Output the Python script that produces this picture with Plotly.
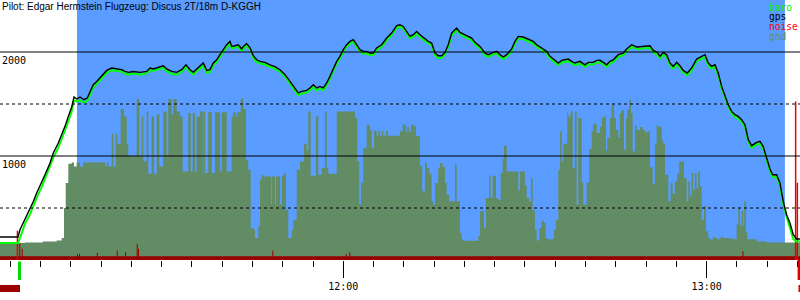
import pandas as pd
import plotly.graph_objects as go

# ---------------- data (time = minutes after 11:00, altitude in m) ----------------
flight_t = [3.32, 6.29, 6.62, 7.45, 8.27, 8.82, 9.38, 10.2, 10.75, 11.58,
            12.12, 12.95, 13.51, 14.05, 14.6, 15.16, 15.54, 15.98, 16.53, 17.19,
            17.73, 18.18, 18.72, 19.29, 19.83, 20.37, 20.94, 21.76, 22.59, 23.41,
            23.96, 24.5, 25.33, 26.43, 27.54, 28.09, 28.63, 29.46, 30.28, 30.84,
            31.67, 32.49, 33.32, 34.03, 34.69, 35.23, 35.79, 36.34, 36.88, 37.45,
            37.99, 38.54, 39.1, 39.64, 40.19, 40.75, 41.29, 41.57, 42.12, 42.66,
            43.22, 43.49, 44.05, 44.6, 45.14, 45.7, 46.25, 47.07, 47.9, 48.72,
            49.55, 50.37, 51.2, 52.02, 52.57, 53.13, 53.96, 54.5, 55.05, 55.61,
            56.15, 56.7, 57.26, 57.8, 58.35, 58.91, 59.45, 60.0, 60.56, 61.11,
            61.65, 62.21, 62.76, 63.3, 63.86, 64.41, 64.95, 65.51, 66.34, 67.16,
            67.99, 68.81, 69.36, 69.9, 70.47, 71.01, 71.56, 72.12, 72.66, 73.49,
            74.03, 74.59, 75.14, 75.68, 76.24, 76.79, 77.33, 77.9, 78.72, 79.27,
            80.09, 80.64, 81.2, 81.74, 82.57, 83.39, 83.94, 84.5, 85.33, 85.87,
            86.42, 86.98, 87.8, 88.35, 88.89, 89.72, 90.54, 91.37, 91.93, 92.75,
            93.58, 94.13, 94.95, 95.5, 96.06, 96.6, 97.15, 97.71, 98.25, 99.08,
            99.9, 100.45, 101.27, 101.84, 102.38, 102.93, 103.49, 104.03, 104.58, 105.41,
            106.23, 106.79, 107.62, 108.44, 109.27, 110.09, 110.64, 111.18, 111.84, 112.29,
            112.83, 113.39, 113.94, 114.48, 115.04, 115.59, 116.13, 116.79, 117.52, 118.34,
            119.17, 119.72, 120.26, 120.82, 121.37, 121.91, 122.47, 123.02, 123.56, 124.12,
            124.67, 125.21, 125.77, 126.32, 126.87, 127.43, 128.25, 128.8, 129.34, 129.9,
            130.45, 130.89, 131.55, 132.1, 132.64, 133.2, 133.75, 134.3, 134.85, 135.41]

gps_alt = [221, 221, 291, 394, 484, 563, 644, 740, 820, 933,
           1029, 1125, 1205, 1285, 1381, 1471, 1567, 1548, 1567, 1541,
           1558, 1621, 1685, 1717, 1750, 1791, 1823, 1846, 1837, 1830,
           1813, 1804, 1813, 1804, 1813, 1846, 1837, 1856, 1868, 1837,
           1813, 1804, 1830, 1877, 1830, 1804, 1837, 1860, 1894, 1823,
           1830, 1894, 1925, 1974, 2022, 2070, 2102, 2054, 2060, 2070,
           2029, 2054, 2080, 2039, 1964, 1925, 1910, 1900, 1877, 1860,
           1830, 1782, 1717, 1654, 1606, 1621, 1631, 1654, 1685, 1654,
           1669, 1654, 1702, 1766, 1846, 1910, 1958, 2022, 2070, 2102,
           2118, 2070, 2022, 2006, 2006, 1990, 1990, 2039, 2070, 2134,
           2182, 2253, 2262, 2246, 2198, 2150, 2166, 2198, 2166, 2125,
           2102, 2086, 1990, 1964, 1964, 1996, 2070, 2182, 2230, 2189,
           2166, 2157, 2134, 2093, 2054, 1990, 1974, 1990, 2006, 1974,
           1952, 1974, 2029, 2102, 2150, 2144, 2125, 2102, 2070, 2039,
           2006, 1958, 1919, 1894, 1919, 1925, 1932, 1910, 1894, 1910,
           1877, 1900, 1900, 1919, 1920, 1900, 1877, 1910, 1925, 1974,
           1990, 2029, 2070, 2048, 2054, 2054, 2060, 2015, 1996, 1958,
           1996, 1974, 1894, 1862, 1900, 1868, 1823, 1798, 1846, 1932,
           1958, 1974, 1894, 1862, 1877, 1798, 1669, 1573, 1493, 1429,
           1397, 1381, 1349, 1301, 1157, 1099, 1131, 1141, 1092, 981,
           875, 820, 820, 740, 563, 436, 356, 243, 202, 202]

baro_alt = [163, 163, 211, 350, 440, 520, 600, 700, 780, 890,
            985, 1080, 1160, 1245, 1335, 1430, 1535, 1525, 1535, 1515,
            1530, 1590, 1660, 1695, 1730, 1770, 1800, 1825, 1818, 1812,
            1790, 1785, 1795, 1782, 1795, 1826, 1818, 1835, 1850, 1815,
            1790, 1782, 1810, 1858, 1810, 1785, 1818, 1840, 1875, 1800,
            1808, 1875, 1905, 1955, 2002, 2050, 2085, 2035, 2040, 2050,
            2010, 2035, 2062, 2020, 1945, 1905, 1890, 1880, 1858, 1840,
            1810, 1762, 1697, 1632, 1585, 1600, 1610, 1635, 1665, 1632,
            1648, 1632, 1680, 1745, 1825, 1890, 1938, 2002, 2050, 2082,
            2100, 2050, 2002, 1985, 1985, 1970, 1968, 2020, 2050, 2115,
            2162, 2235, 2245, 2228, 2178, 2130, 2147, 2180, 2147, 2105,
            2083, 2066, 1970, 1943, 1943, 1976, 2050, 2162, 2212, 2170,
            2147, 2138, 2115, 2073, 2034, 1970, 1954, 1970, 1987, 1954,
            1932, 1954, 2010, 2082, 2130, 2125, 2105, 2082, 2050, 2019,
            1986, 1938, 1899, 1874, 1899, 1905, 1912, 1890, 1874, 1890,
            1857, 1880, 1880, 1899, 1900, 1880, 1857, 1890, 1905, 1955,
            1970, 2009, 2050, 2028, 2034, 2034, 2040, 1995, 1976, 1938,
            1976, 1954, 1874, 1842, 1880, 1848, 1803, 1778, 1826, 1912,
            1938, 1954, 1874, 1842, 1857, 1778, 1649, 1553, 1473, 1409,
            1377, 1361, 1329, 1281, 1137, 1079, 1111, 1121, 1072, 961,
            855, 800, 800, 720, 543, 416, 300, 200, 179, 179]

gnd_t = [3.32, 7.45, 10.37, 12.68, 13.51, 13.89, 14.17, 14.6, 15.16, 15.54,
         15.98, 16.53, 17.07, 20.66, 20.94, 21.2, 21.76, 22.03, 22.42, 22.69,
         23.25, 23.79, 24.24, 24.5, 25.89, 26.32, 26.71, 26.98, 27.54, 27.8,
         28.36, 28.75, 29.19, 29.62, 30.28, 30.84, 31.11, 31.67, 31.93, 32.49,
         33.04, 33.48, 34.41, 34.81, 35.14, 35.51, 35.79, 36.34, 36.79, 36.88,
         37.17, 37.71, 38.27, 38.82, 39.64, 39.92, 40.75, 41.57, 41.84, 42.28,
         42.5, 43.06, 43.49, 43.93, 44.31, 44.71, 45.14, 45.42, 45.97, 46.25,
         46.53, 46.79, 48.06, 48.18, 48.72, 48.89, 49.55, 49.83, 50.09, 50.54,
         50.92, 51.48, 51.74, 52.31, 52.85, 53.51, 53.96, 54.22, 54.62, 55.49,
         55.87, 56.43, 56.98, 57.26, 57.52, 58.91, 61.93, 62.31, 62.64, 62.92,
         63.3, 63.86, 64.41, 64.69, 65.07, 65.51, 65.78, 66.06, 66.34, 66.6,
         67.05, 67.33, 69.36, 69.8, 70.35, 70.57, 70.9, 71.18, 71.56, 72.0,
         72.66, 73.04, 73.49, 73.77, 74.2, 74.59, 74.86, 75.14, 75.68, 75.96,
         76.41, 76.79, 77.07, 77.5, 78.44, 78.72, 79.27, 79.55, 79.81, 82.29,
         82.57, 83.23, 83.56, 84.1, 84.33, 84.66, 85.21, 85.59, 85.99, 86.32,
         86.53, 86.98, 88.89, 89.17, 89.98, 90.28, 90.66, 90.99, 91.27, 91.65,
         91.93, 92.36, 92.75, 93.13, 93.41, 93.74, 94.79, 95.12, 95.5, 95.78,
         96.06, 96.32, 96.98, 97.15, 97.54, 97.87, 98.25, 98.53, 98.8, 99.36,
         99.62, 100.18, 100.61, 101.01, 101.27, 101.84, 102.38, 102.67, 102.93, 103.37,
         103.59, 104.03, 104.31, 104.69, 105.02, 105.4, 105.68, 105.96, 106.34, 106.67,
         106.89, 107.22, 107.5, 107.78, 108.16, 108.44, 108.98, 109.43, 109.81, 110.19,
         110.64, 111.08, 111.46, 111.74, 112.17, 112.57, 112.83, 113.11, 113.66, 114.05,
         114.38, 114.76, 115.14, 115.47, 116.25, 116.7, 116.96, 117.24, 117.52, 117.78,
         118.06, 118.34, 118.61, 118.89, 119.17, 119.55, 119.88, 120.26, 120.54, 121.09,
         121.37, 121.75, 122.19, 122.47, 122.74, 123.84, 124.67, 124.95, 125.21, 125.49,
         125.77, 126.04, 126.2, 126.48, 126.7, 128.25, 129.9, 135.41]

gnd_alt = [163, 169, 179, 188, 211, 500, 740, 926, 938, 900,
           938, 900, 938, 900, 938, 900, 1214, 900, 1214, 1118,
           1452, 1381, 1118, 1000, 1548, 1000, 1381, 950, 1429, 830,
           1381, 830, 1400, 900, 1429, 1000, 1548, 1400, 1548, 1429,
           1381, 850, 1413, 850, 1413, 850, 1381, 1429, 820, 1429,
           836, 1420, 836, 1420, 850, 1420, 850, 1381, 1420, 1381,
           1420, 1551, 1452, 964, 868, 308, 290, 211, 323, 772,
           820, 804, 532, 804, 532, 804, 532, 804, 830, 484,
           211, 291, 387, 868, 948, 1118, 1050, 1429, 810, 1381,
           820, 884, 1429, 884, 830, 1429, 1365, 948, 532, 746,
           1077, 1301, 1250, 1077, 1243, 1195, 1243, 1195, 1243, 1195,
           1243, 1195, 1237, 1301, 1230, 1280, 1230, 1301, 1290, 1192,
           907, 660, 939, 884, 830, 564, 532, 740, 884, 932,
           895, 740, 628, 564, 916, 564, 260, 195, 186, 230,
           468, 308, 596, 811, 596, 811, 596, 580, 836, 971,
           1099, 852, 669, 852, 717, 596, 564, 788, 477, 291,
           188, 308, 378, 355, 211, 200, 291, 387, 868, 1237,
           948, 1118, 1413, 1381, 1429, 884, 1429, 532, 1365, 746,
           532, 746, 1067, 1237, 1310, 1221, 1279, 1365, 1381, 1054,
           1173, 1365, 1493, 1365, 1250, 1180, 1413, 1439, 1060, 1365,
           1445, 1541, 1413, 1044, 1291, 1250, 1280, 1250, 1225, 1237,
           891, 733, 1118, 1291, 1280, 1150, 1118, 820, 564, 740,
           638, 757, 830, 948, 788, 564, 757, 620, 836, 676,
           836, 690, 850, 708, 387, 520, 276, 211, 200, 227,
           211, 200, 211, 227, 211, 205, 200, 349, 500, 330,
           470, 330, 564, 266, 200, 179, 169, 169]

noise_t = [3.32, 6.5, 6.67, 6.9, 7.07, 16.03, 16.2, 16.36, 16.53, 19.29,
           19.46, 22.59, 22.76, 23.96, 24.13, 25.89, 26.06, 26.1, 26.27, 48.28,
           48.45, 60.4, 60.57, 60.99, 61.16, 125.9, 126.07, 135.41]
noise_v = [35, 157, 35, 109, 35, 55, 35, 60, 35, 70,
           35, 92, 35, 75, 35, 157, 35, 109, 35, 92,
           35, 60, 35, 75, 35, 83, 35, 35]

noise_peak_t = [6.2, 134.69, 134.97]
noise_peak_v = [282, 1525, 743]

y_labels = [1000, 2000]
x_range = [3.32, 135.41]
TASK_START, TASK_END = 16.03, 132.92
TAKEOFF, LANDING = 6.29, 135.02
TITLE = "Pilot: Edgar Hermstein Flugzeug: Discus 2T/18m D-KGGH"
legend_names = ["baro", "gps", "noise", "gnd"]

BLUE = "#5a9cff"
GND = "#628c64"
DARKRED = "#990000"
legend_colors = ["#00ee00", "black", "#ff0000", GND]

base = pd.Timestamp("2000-01-01 11:00:00")


def tt(m):
    return [base + pd.to_timedelta(v, unit="min") for v in m]


def frac(m):
    return (m - x_range[0]) / (x_range[1] - x_range[0])


fig = go.Figure()
fig.add_trace(go.Scatter(x=tt(gnd_t), y=gnd_alt, mode="lines", line=dict(width=0, shape="hv", color=GND),
                         fill="tozeroy", fillcolor=GND, hoverinfo="skip"))
fig.add_trace(go.Scatter(x=tt(noise_t), y=noise_v, mode="lines", line=dict(width=0, shape="hv", color=DARKRED),
                         fill="tozeroy", fillcolor=DARKRED, hoverinfo="skip"))
px_, py_ = [], []
for t, v in zip(noise_peak_t, noise_peak_v):
    px_ += tt([t, t]) + [None]
    py_ += [0, v, None]
fig.add_trace(go.Scatter(x=px_, y=py_, mode="lines", line=dict(width=1.5, color="#ee0000"), hoverinfo="skip"))
fig.add_trace(go.Scatter(x=tt(flight_t), y=baro_alt, mode="lines", line=dict(width=2, color="#00ff00"),
                         hoverinfo="skip"))
fig.add_trace(go.Scatter(x=tt(flight_t), y=gps_alt, mode="lines", line=dict(width=1.4, color="#000000"),
                         hoverinfo="skip"))

shapes = [dict(type="rect", xref="x", yref="paper", x0=tt([TASK_START])[0], x1=tt([TASK_END])[0],
               y0=0, y1=1, fillcolor=BLUE, line=dict(width=0), layer="below")]
for lv in [500, 1000, 1500, 2000]:
    shapes.append(dict(type="line", xref="paper", yref="y", x0=0, x1=1, y0=lv, y1=lv, layer="above",
                       line=dict(color="black", width=1, dash="solid" if lv % 1000 == 0 else "3px,3px")))
# takeoff / landing markers below the axis
shapes.append(dict(type="rect", xref="paper", yref="paper", x0=frac(TAKEOFF), x1=frac(TAKEOFF) + 3 / 800,
                   y0=-0.077, y1=-0.006, fillcolor="#00dd00", line=dict(width=0)))
shapes.append(dict(type="rect", xref="paper", yref="paper", x0=frac(LANDING), x1=1,
                   y0=-0.077, y1=0, fillcolor="#dd0000", line=dict(width=0)))
shapes.append(dict(type="rect", xref="paper", yref="paper", x0=0, x1=frac(6.62),
                   y0=-0.123, y1=-0.096, fillcolor="#9b0000", line=dict(width=0)))
shapes.append(dict(type="rect", xref="paper", yref="paper", x0=1 - 1.5 / 800, x1=1,
                   y0=-0.123, y1=-0.096, fillcolor="#dd0000", line=dict(width=0)))

mono = "DejaVu Sans Mono"
ann = [dict(text=TITLE, xref="paper", yref="paper", x=0, y=1 - 6.5 / 260, xanchor="left", yanchor="middle",
            showarrow=False, font=dict(family="Liberation Sans", size=10, color="black"))]
for lab in y_labels:
    ann.append(dict(text=str(lab), xref="paper", yref="y", x=0, y=lab, yshift=-8, xanchor="left",
                    yanchor="middle", showarrow=False, font=dict(family=mono, size=10, color="black")))
for i, (name, col) in enumerate(zip(legend_names, legend_colors)):
    ann.append(dict(text=name, xref="paper", yref="paper", x=768 / 800, y=1 - (7 + 10 * i) / 260,
                    xanchor="left", yanchor="middle", showarrow=False, borderpad=0,
                    font=dict(family=mono, size=9.6, color=col)))

fig.update_layout(
    width=800, height=300, margin=dict(l=0, r=0, t=0, b=40),
    paper_bgcolor="white", plot_bgcolor="white", showlegend=False,
    shapes=shapes, annotations=ann,
    xaxis=dict(type="date", range=tt(x_range), showgrid=False, zeroline=False, showline=False,
               tick0=base, dtick=3600000, tickformat="%H:%M", ticks="outside", ticklen=17, tickwidth=1,
               tickcolor="black", tickfont=dict(family=mono, size=10, color="black"),
               minor=dict(dtick=300000, tick0=base, ticks="outside", ticklen=6, tickwidth=1, tickcolor="black",
                          showgrid=False)),
    yaxis=dict(range=[0, 2500], showgrid=False, zeroline=False, showticklabels=False, showline=False, ticks=""),
)
fig.write_html("out.html")
